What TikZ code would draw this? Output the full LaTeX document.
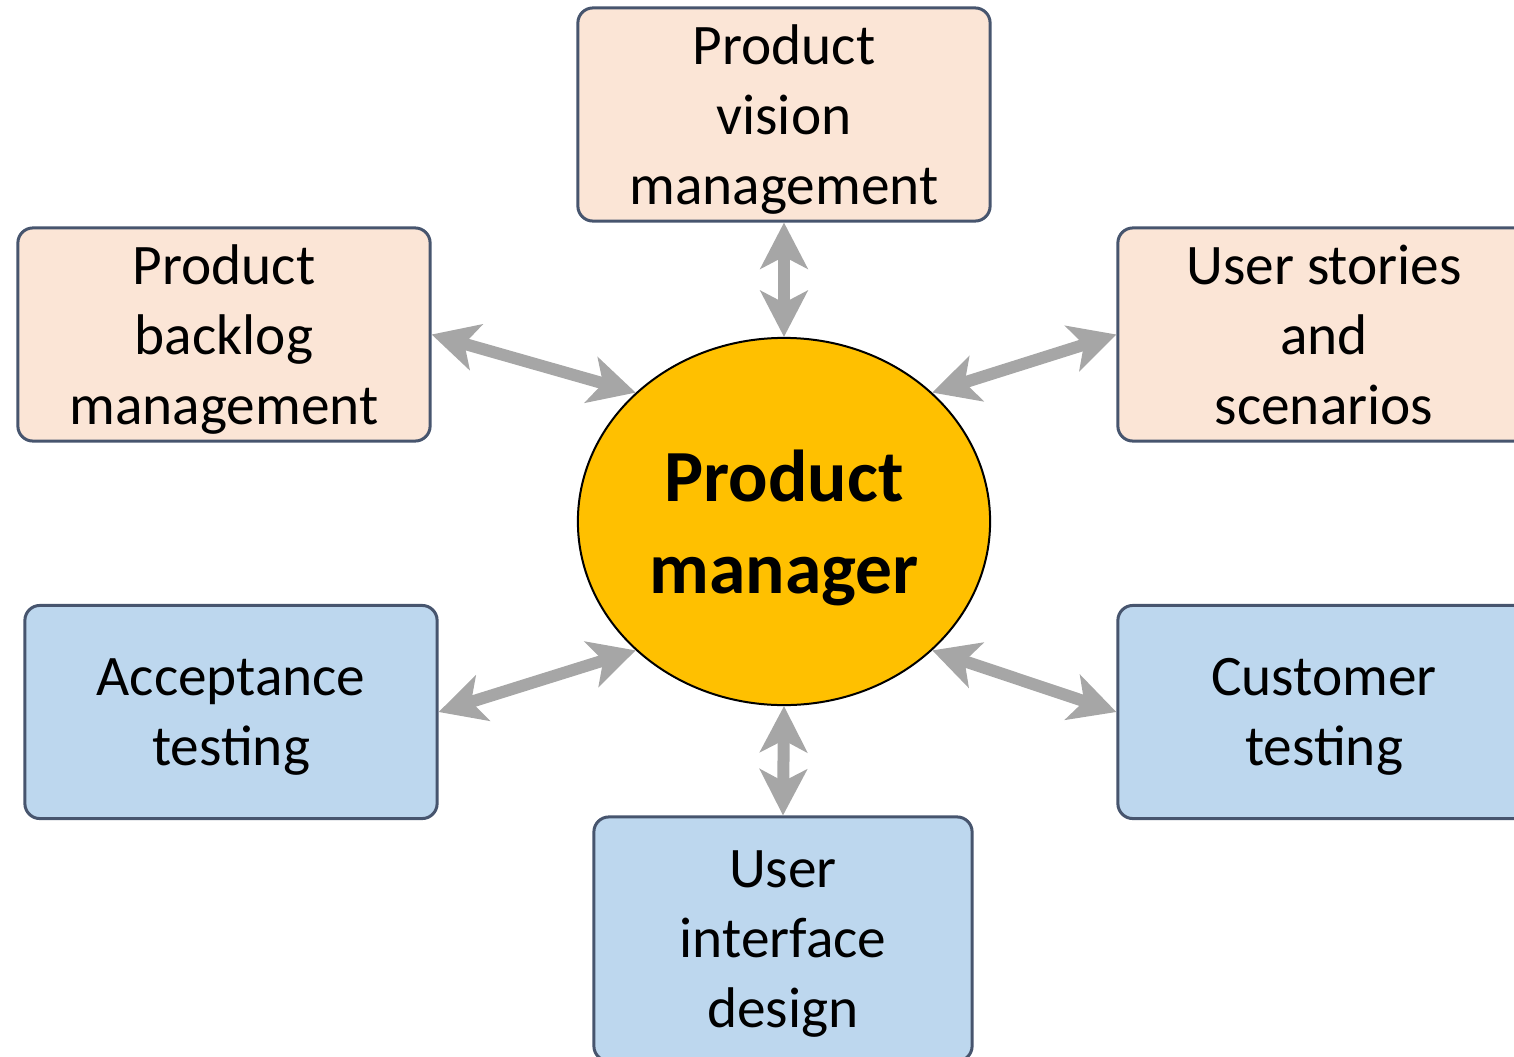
\documentclass[tikz,border=0pt]{standalone}
\usepackage{fontspec}
\setmainfont{Carlito}
\usetikzlibrary{shapes,arrows.meta,positioning}
\definecolor{peach}{RGB}{251,229,214}
\definecolor{lightblue}{RGB}{189,215,238}
\definecolor{slate}{RGB}{71,85,110}
\definecolor{amber}{RGB}{255,192,0}
\definecolor{arrowgray}{RGB}{166,166,166}

\begin{document}
\begin{tikzpicture}[
    x=0.01cm, y=-0.01cm,
    task/.style={rectangle, rounded corners=0.15cm, draw=slate, line width=0.03cm, minimum width=4.12cm, minimum height=2.13cm, inner sep=0pt, text depth=0pt, align=center, text=black, font=\fontsize{16.3}{19.9}\selectfont},
    plan/.style={task, fill=peach},
    test/.style={task, fill=lightblue},
    manager/.style={ellipse, draw=black, line width=0.02cm, fill=amber, minimum width=4.12cm, minimum height=3.67cm, inner sep=0pt, text depth=0pt, align=center, font=\fontsize{20.9}{26}\selectfont\bfseries},
    link/.style={{Stealth[length=0.46cm,width=0.47cm,inset=0.12cm]}-{Stealth[length=0.46cm,width=0.47cm,inset=0.12cm]}, line width=0.12cm, draw=arrowgray}
]
\useasboundingbox (0,0) rectangle (1514,1057);

\node [manager] (pm) at (784,521.5) {Product\\manager};

% planning side
\node [plan] (vision) at (784,114.5) {Product\\vision\\management};
\node [plan] (backlog) at (224,334.5) {Product\\backlog\\management};
\node [plan] (stories) at (1324,334.5) {User stories\\and\\scenarios};

% testing side
\node [test] (acceptance) at (231,712) {Acceptance\\testing};
\node [test] (customer) at (1324,712) {Customer\\testing};
\node [test, minimum width=3.78cm, minimum height=2.44cm] (uidesign) at (783,939) {User\\interface\\design};

\draw [link] (vision.south) -- (pm.90);
\draw [link] (backlog.east) -- (pm.139);
\draw [link] (stories.west) -- (pm.41);
\draw [link] (acceptance.east) -- (pm.221);
\draw [link] (customer.west) -- (pm.319);
\draw [link] (uidesign.north) -- (pm.270);
\end{tikzpicture}
\end{document}
